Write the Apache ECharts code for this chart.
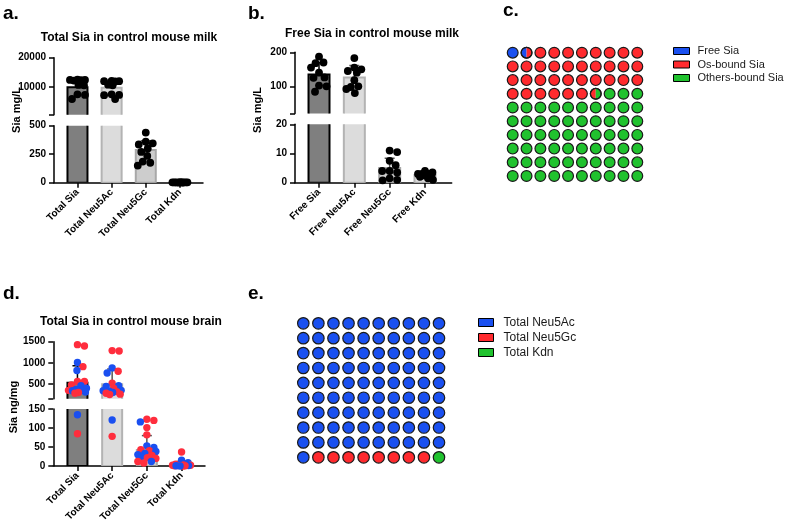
<!DOCTYPE html>
<html><head><meta charset="utf-8">
<script src="https://cdn.jsdelivr.net/npm/echarts@6/dist/echarts.min.js"></script>
<style>html,body{margin:0;padding:0;background:#fff}#c{width:789px;height:526px}</style>
</head><body><div id="c"></div>
<script>
const FONT = "'Liberation Sans', Arial, Helvetica, sans-serif";

// ---------- Panel a: Total Sia in control mouse milk ----------
const aCategories = ['Total Sia', 'Total Neu5Ac', 'Total Neu5Gc', 'Total Kdn'];
const aMean = [9900, 9700, 287, 2];
const aSD = [1700, 1900, 80, 1];
const aPoints = [
  [12500, 12400, 12400, 12300, 12200, 10700, 10600, 7500, 7300, 5900],
  [12100, 12000, 12000, 11900, 10800, 10600, 7500, 7300, 7200, 5900],
  [440, 360, 345, 335, 300, 270, 235, 185, 175, 150],
  [4, 3, 3, 3, 2, 2, 2, 2, 1, 1]
];
const aUpperTicks = [500, 10000, 20000];
const aUpperLabels = [10000, 20000];
const aLowerTicks = [0, 250, 500];

// ---------- Panel b: Free Sia in control mouse milk ----------
const bCategories = ['Free Sia', 'Free Neu5Ac', 'Free Neu5Gc', 'Free Kdn'];
const bMean = [135, 126, 5.0, 2.6];
const bSD = [35, 35, 3.4, 1.0];
const bPoints = [
  [187, 170, 168, 155, 140, 126, 125, 102, 100, 84],
  [183, 155, 150, 145, 140, 118, 100, 98, 92, 80],
  [11, 10.5, 7.5, 6, 4, 4, 3.5, 1.5, 1, 0.8],
  [4, 3.5, 3, 3, 3, 2.5, 2.5, 2, 1.5, 1]
];
const bUpperTicks = [20, 100, 200];
const bUpperLabels = [100, 200];
const bLowerTicks = [0, 10, 20];

// ---------- Panel d: Total Sia in control mouse brain ----------
const dCategories = ['Total Sia', 'Total Neu5Ac', 'Total Neu5Gc', 'Total Kdn'];
const dMean = [530, 493, 42, 5];
const dSD = [400, 360, 38, 7];
const dRedPoints = [
  [1430, 1400, 910, 560, 560, 480, 350, 300, 280, 85],
  [1290, 1280, 800, 520, 400, 320, 280, 260, 250, 78],
  [123, 120, 101, 82, 43, 40, 28, 22, 20, 12, 8],
  [37, 5, 3, 2, 2, 1, 1, 0.5, 0.5, 0]
];
const dBluePoints = [
  [1010, 820, 460, 400, 370, 350, 340, 310, 135],
  [880, 760, 460, 440, 350, 340, 330, 300, 121],
  [116, 53, 49, 38, 33, 30, 25, 12],
  [15, 9, 3, 2, 1, 0.5, 0]
];
const dUpperTicks = [150, 500, 1000, 1500];
const dUpperLabels = [500, 1000, 1500];
const dLowerTicks = [0, 50, 100, 150];

// ---------- Panel c: waffle ----------
const cLabels = ['Free Sia', 'Os-bound Sia', 'Others-bound Sia'];
const cCounts = [1.5, 35, 63.5];

// ---------- Panel e: waffle ----------
const eLabels = ['Total Neu5Ac', 'Total Neu5Gc', 'Total Kdn'];
const eCounts = [91, 8, 1];

// ---------- styles ----------
const BLUE = '#1a50f0', RED = '#ff2a2e', GREEN = '#20c22e';
const barFill = ['#7f7f7f', '#dcdcdc', '#cdcdcd', '#d9d9d9'];
const barStroke = ['#000000', '#b3b3b3', '#a8a8a8', '#b3b3b3'];
const errColor = ['#000000', '#555555', '#555555', '#555555'];

const grids = [], xAxes = [], yAxes = [], series = [];

function axisTextStyle() {
  return { fontSize: 10, fontWeight: 'bold', color: '#000', fontFamily: FONT };
}

function swarmLayout(items, api, r, maxDx) {
  const pos = items.map(it => api.coord([it[0], it[1]]));
  const res = pos.map(p => [p[0], p[1]]);
  const groups = {};
  items.forEach((it, i) => { (groups[it[0]] = groups[it[0]] || []).push(i); });
  const minD = 2 * r * 0.92;
  Object.keys(groups).forEach(k => {
    const placed = [];
    groups[k].forEach(i => {
      const cx = pos[i][0], cy = pos[i][1];
      let chosen = null, bestDx = 0, bestScore = -1;
      const steps = Math.round(maxDx * 2);
      for (let s = 0; s <= steps && chosen === null; s++) {
        const signs = s === 0 ? [1] : [1, -1];
        for (const sg of signs) {
          const dx = sg * s * 0.5;
          let md = Infinity;
          placed.forEach(q => { const d = Math.hypot(cx + dx - q[0], cy - q[1]); if (d < md) md = d; });
          if (md >= minD) { chosen = dx; break; }
          if (md > bestScore) { bestScore = md; bestDx = dx; }
        }
      }
      const dx = chosen === null ? bestDx : chosen;
      res[i] = [cx + dx, cy];
      placed.push(res[i]);
    });
  });
  return res;
}

function buildPanel(cfg) {
  const g0 = grids.length;
  const gU = g0, gL = g0 + 1, gH = g0 + 2;
  const off = cfg.barLeft - cfg.axisX;
  grids.push({ left: cfg.barLeft, width: cfg.barWidth, top: cfg.upperTop, height: cfg.upperHeight, outerBoundsMode: 'none' });
  grids.push({ left: cfg.barLeft, width: cfg.barWidth, top: cfg.lowerTop, height: cfg.lowerHeight, outerBoundsMode: 'none' });
  grids.push({ left: cfg.axisX, width: cfg.axisRight - cfg.axisX, top: cfg.lowerTop, height: cfg.lowerHeight, outerBoundsMode: 'none' });

  xAxes.push({ gridIndex: gU, type: 'category', data: cfg.cats, show: false });
  xAxes.push({ gridIndex: gL, type: 'category', data: cfg.cats,
    axisLine: { show: false },
    axisTick: { show: true, alignWithLabel: true, length: 5, lineStyle: { color: '#000', width: 1.5 } },
    axisLabel: Object.assign({ rotate: 45, margin: 8, interval: 0 }, axisTextStyle()),
    splitLine: { show: false } });
  xAxes.push({ gridIndex: gH, type: 'value', min: 0, max: 1,
    axisLine: { show: true, onZero: false, lineStyle: { color: '#000', width: 1.5 } },
    axisTick: { show: false }, axisLabel: { show: false }, splitLine: { show: false } });

  const yCommon = (min, max, ticks, labels) => ({
    type: 'value', min, max, position: 'left', offset: off,
    axisLine: { show: true, lineStyle: { color: '#000', width: 1.5 } },
    axisTick: { show: true, length: 5, customValues: ticks, lineStyle: { color: '#000', width: 1.5 } },
    axisLabel: Object.assign({ customValues: labels, margin: 8, formatter: v => String(v) }, axisTextStyle()),
    splitLine: { show: false }
  });
  yAxes.push(Object.assign({ gridIndex: gU }, yCommon(cfg.upperMin, cfg.upperMax, cfg.upperTicks, cfg.upperLabels)));
  yAxes.push(Object.assign({ gridIndex: gL }, yCommon(0, cfg.lowerMax, cfg.lowerTicks, cfg.lowerTicks)));
  yAxes.push({ gridIndex: gH, type: 'value', min: 0, max: 1, show: false });

  const barData = cfg.mean.map((m, i) => [i, m]);
  const errData = cfg.mean.map((m, i) => [i, m, cfg.sd[i]]);

  const allPts = [];
  cfg.points.forEach((list, ci) => {
    list.forEach(p => allPts.push([ci, p[0], p[1]]));
  });
  allPts.sort((p, q) => p[0] - q[0] || q[1] - p[1]);
  const upperPts = allPts.filter(p => p[1] >= cfg.lowerMax);
  const lowerPts = allPts.filter(p => p[1] < cfg.lowerMax);

  [gU, gL].forEach((gi, k) => {
    const segMin = k === 0 ? cfg.upperMin : 0;
    series.push({
      type: 'custom', xAxisIndex: gi, yAxisIndex: gi, clip: true, z: 2,
      lineStyle: { width: 0.01 }, silent: true,
      data: barData,
      renderItem(params, api) {
        const i = params.dataIndex;
        if (barData[i][1] <= segMin) return null;
        const p0 = api.coord([i, 0]);
        const p1 = api.coord([i, barData[i][1]]);
        const w = cfg.barW;
        return { type: 'rect', shape: { x: p0[0] - w / 2, y: p1[1], width: w, height: p0[1] - p1[1] },
          style: { fill: cfg.fill[i], stroke: cfg.stroke[i], lineWidth: 2 } };
      }
    });
    series.push({
      type: 'custom', xAxisIndex: gi, yAxisIndex: gi, clip: true, z: 3,
      lineStyle: { width: 0.01 }, silent: true,
      data: errData,
      renderItem(params, api) {
        const i = params.dataIndex;
        if (errData[i][1] + errData[i][2] <= segMin) return null;
        const p0 = api.coord([i, errData[i][1]]);
        const p1 = api.coord([i, errData[i][1] + errData[i][2]]);
        const cw = 10;
        const st = { stroke: errColor[i], lineWidth: 1.5 };
        return { type: 'group', children: [
          { type: 'line', shape: { x1: p0[0], y1: p0[1], x2: p1[0], y2: p1[1] }, style: st },
          { type: 'line', shape: { x1: p1[0] - cw / 2, y1: p1[1], x2: p1[0] + cw / 2, y2: p1[1] }, style: st }
        ] };
      }
    });
    const pts = k === 0 ? upperPts : lowerPts;
    series.push({
      type: 'custom', xAxisIndex: gi, yAxisIndex: gi, clip: false, z: 4, silent: true,
      data: pts,
      renderItem(params, api) {
        const lay = swarmLayout(pts, api, cfg.r, cfg.maxDx);
        const p = lay[params.dataIndex];
        return { type: 'circle', shape: { cx: p[0], cy: p[1], r: cfg.r },
          style: { fill: cfg.colors[pts[params.dataIndex][2]] } };
      }
    });
  });
}

buildPanel({
  cats: aCategories, mean: aMean, sd: aSD,
  points: aPoints.map(l => l.map(v => [v, 0])), colors: ['#000'],
  axisX: 54, barLeft: 60.4, barWidth: 136.6, axisRight: 203,
  upperTop: 57.7, upperHeight: 57.1, lowerTop: 125.7, lowerHeight: 57,
  upperMin: 500, upperMax: 20000, upperTicks: aUpperTicks, upperLabels: aUpperLabels,
  lowerMax: 500, lowerTicks: aLowerTicks,
  fill: barFill, stroke: barStroke, barW: 20, r: 3.9, maxDx: 8
});
buildPanel({
  cats: bCategories, mean: bMean, sd: bSD,
  points: bPoints.map(l => l.map(v => [v, 0])), colors: ['#000'],
  axisX: 295, barLeft: 301.35, barWidth: 141.3, axisRight: 451.7,
  upperTop: 52.3, upperHeight: 61.2, lowerTop: 124.3, lowerHeight: 58.4,
  upperMin: 20, upperMax: 200, upperTicks: bUpperTicks, upperLabels: bUpperLabels,
  lowerMax: 20, lowerTicks: bLowerTicks,
  fill: ['#7f7f7f', '#dcdcdc', '#cfcfcf', '#e0e0e0'], stroke: barStroke, barW: 21, r: 3.9, maxDx: 8
});
buildPanel({
  cats: dCategories, mean: dMean, sd: dSD,
  points: dRedPoints.map((l, i) => l.map(v => [v, 0]).concat(dBluePoints[i].map(v => [v, 1]))),
  colors: ['#ff2d3d', '#1a4ff0'],
  axisX: 53.3, barLeft: 60.1, barWidth: 138.8, axisRight: 205,
  upperTop: 341.7, upperHeight: 57.1, lowerTop: 409, lowerHeight: 57,
  upperMin: 150, upperMax: 1500, upperTicks: dUpperTicks, upperLabels: dUpperLabels,
  lowerMax: 150, lowerTicks: dLowerTicks,
  fill: ['#7f7f7f', '#dcdcdc', '#d2d2d2', '#dcdcdc'], stroke: barStroke, barW: 20, r: 3.7, maxDx: 9
});

// ---------- waffles ----------
function waffleCells(counts) {
  const out = counts.map(() => []);
  let cum = 0;
  counts.forEach((c, i) => {
    const s = cum, e = cum + c; cum = e;
    for (let k = Math.floor(s); k < Math.ceil(e) && k < 100; k++) {
      const a = Math.max(s, k) - k, b = Math.min(e, k + 1) - k;
      if (b - a > 1e-6) out[i].push([k % 10, Math.floor(k / 10), a, b]);
    }
  });
  return out;
}
function stripPoly(cx, cy, r, a, b) {
  const xl = cx - r + 2 * r * a, xr = cx - r + 2 * r * b;
  const tl = Math.acos(Math.max(-1, Math.min(1, (xl - cx) / r)));
  const tr = Math.acos(Math.max(-1, Math.min(1, (xr - cx) / r)));
  const pts = [], N = 24;
  for (let j = 0; j <= N; j++) { const t = tl + (tr - tl) * j / N; pts.push([cx + r * Math.cos(t), cy - r * Math.sin(t)]); }
  for (let j = 0; j <= N; j++) { const t = tr + (tl - tr) * j / N; pts.push([cx + r * Math.cos(t), cy + r * Math.sin(t)]); }
  return pts;
}
function buildWaffle(labels, counts, colors, box, ratio) {
  const gi = grids.length;
  grids.push({ left: box.left, top: box.top, width: box.width, height: box.height, outerBoundsMode: 'none' });
  xAxes.push({ gridIndex: gi, type: 'value', min: 0, max: 9, show: false });
  yAxes.push({ gridIndex: gi, type: 'value', min: 0, max: 9, inverse: true, show: false });
  const cells = waffleCells(counts);
  labels.forEach((name, i) => {
    series.push({
      type: 'custom', name, xAxisIndex: gi, yAxisIndex: gi, clip: false, z: 2, silent: true,
      itemStyle: { color: colors[i] },
      data: cells[i],
      renderItem(params, api) {
        const cell = cells[i][params.dataIndex];
        const c = api.coord([cell[0], cell[1]]);
        const r = api.size([1, 1])[0] * ratio;
        if (cell[2] < 1e-6 && cell[3] > 1 - 1e-6) {
          return { type: 'circle', shape: { cx: c[0], cy: c[1], r }, style: { fill: colors[i] } };
        }
        return { type: 'polygon', shape: { points: stripPoly(c[0], c[1], r, cell[2], cell[3]) }, style: { fill: colors[i] } };
      }
    });
  });
  const all = [];
  cells.forEach(list => list.forEach(c => all.push([c[0], c[1]])));
  series.push({
    type: 'custom', name: 'outline-' + gi, xAxisIndex: gi, yAxisIndex: gi, clip: false, z: 3, silent: true,
    data: all,
    renderItem(params, api) {
      const c = api.coord(all[params.dataIndex]);
      const r = api.size([1, 1])[0] * ratio;
      return { type: 'circle', shape: { cx: c[0], cy: c[1], r }, style: { fill: 'none', stroke: '#1a1a1a', lineWidth: 1.2 } };
    }
  });
}
buildWaffle(cLabels, cCounts, [BLUE, RED, GREEN], { left: 512.7, top: 52.7, width: 124.6, height: 123.3 }, 0.39);
buildWaffle(eLabels, eCounts, [BLUE, RED, GREEN], { left: 303.3, top: 323.3, width: 135.7, height: 134 }, 0.38);

// ---------- texts ----------
function txt(text, x, y, size, weight, align, rot) {
  return { type: 'text', x, y, rotation: rot || 0, silent: true,
    style: { text, fill: '#000', font: `${weight} ${size}px ${FONT}`,
      align: align || 'left', verticalAlign: 'middle', textAlign: align || 'left', textVerticalAlign: 'middle' } };
}
const graphic = [
  txt('a.', 3, 13.5, 19, 'bold'),
  txt('b.', 248, 13.5, 19, 'bold'),
  txt('c.', 503, 11, 19, 'bold'),
  txt('d.', 3, 293.5, 19, 'bold'),
  txt('e.', 248, 293.5, 19, 'bold'),
  txt('Total Sia in control mouse milk', 129, 38, 12, 'bold', 'center'),
  txt('Free Sia in control mouse milk', 372, 33.5, 12, 'bold', 'center'),
  txt('Total Sia in control mouse brain', 131, 321.5, 12, 'bold', 'center'),
  txt('Sia mg/L', 17, 110, 11, 'bold', 'center', Math.PI / 2),
  txt('Sia mg/L', 257.5, 110, 11, 'bold', 'center', Math.PI / 2),
  txt('Sia ng/mg', 14, 407, 11, 'bold', 'center', Math.PI / 2)
];

const legend = [
  { data: cLabels, left: 673, top: 45.5, orient: 'vertical', padding: 0, itemWidth: 16, itemHeight: 7, itemGap: 2.5,
    icon: 'rect', selectedMode: false, itemStyle: { borderColor: '#000', borderWidth: 1 },
    textStyle: { fontSize: 11, color: '#1a1a1a', fontFamily: FONT, padding: [0, 0, 0, 3] } },
  { data: eLabels, left: 478, top: 316.5, orient: 'vertical', padding: 0, itemWidth: 15, itemHeight: 8, itemGap: 3,
    icon: 'rect', selectedMode: false, itemStyle: { borderColor: '#000', borderWidth: 1 },
    textStyle: { fontSize: 12, color: '#1a1a1a', fontFamily: FONT, padding: [0, 0, 0, 5] } }
];

const chart = echarts.init(document.getElementById('c'), null, { renderer: 'canvas' });
chart.setOption({
  animation: false,
  backgroundColor: '#fff',
  textStyle: { fontFamily: FONT },
  grid: grids, xAxis: xAxes, yAxis: yAxes, series, graphic, legend
});
</script></body></html>
